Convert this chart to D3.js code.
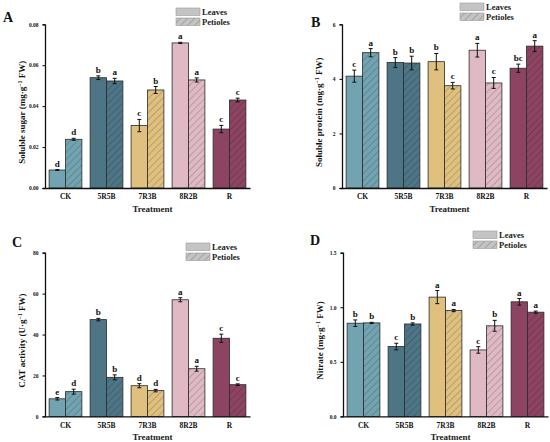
<!DOCTYPE html>
<html lang="en">
<head>
<meta charset="UTF-8">
<script src="https://d3js.org/d3.v7.min.js"></script>
<title>Panels</title>
<style>
  body { margin: 0; background: #fff; }
  text { font-family: "Liberation Serif", "Times New Roman", serif; font-weight: bold; }
</style>
</head>
<body>
<div id="chart"></div>
<script>
// categories
const treatments = ['CK', '5R5B', '7R3B', '8R2B', 'R']
const barColors = ['#72a3b1', '#4e7586', '#dfc07f', '#dfbac4', '#8d4462']

// A: soluble sugar
const sugarLeaves = [0.0088, 0.0539, 0.0305, 0.0709, 0.0288]
const sugarPetioles = [0.0238, 0.0523, 0.0479, 0.0528, 0.0430]
const sugarLeavesErr = [0.0002, 0.0009, 0.0030, 0.0003, 0.0018]
const sugarPetiolesErr = [0.0005, 0.0013, 0.0017, 0.0010, 0.0009]
const sugarLeavesSig = ['d', 'b', 'c', 'a', 'c']
const sugarPetiolesSig = ['d', 'a', 'b', 'a', 'c']
const sugarTicks = [0, 0.02, 0.04, 0.06, 0.08]

// B: soluble protein
const proteinLeaves = [4.10, 4.60, 4.63, 5.05, 4.39]
const proteinPetioles = [4.96, 4.58, 3.75, 3.85, 5.20]
const proteinLeavesErr = [0.22, 0.18, 0.30, 0.25, 0.15]
const proteinPetiolesErr = [0.15, 0.25, 0.12, 0.20, 0.20]
const proteinLeavesSig = ['c', 'b', 'b', 'a', 'bc']
const proteinPetiolesSig = ['a', 'b', 'c', 'c', 'a']
const proteinTicks = [0, 2, 4, 6]

// C: CAT activity
const catLeaves = [8.6, 47.3, 15.0, 57.0, 38.2]
const catPetioles = [12.1, 19.1, 12.6, 23.3, 15.5]
const catLeavesErr = [0.6, 0.6, 1.0, 1.0, 2.0]
const catPetiolesErr = [1.2, 1.2, 0.6, 1.2, 0.4]
const catLeavesSig = ['e', 'b', 'd', 'a', 'c']
const catPetiolesSig = ['d', 'b', 'd', 'a', 'c']
const catTicks = [0, 20, 40, 60, 80]

// D: nitrate
const nitrateLeaves = [0.854, 0.640, 1.093, 0.609, 1.050]
const nitratePetioles = [0.857, 0.847, 0.970, 0.830, 0.955]
const nitrateLeavesErr = [0.03, 0.03, 0.06, 0.03, 0.03]
const nitratePetiolesErr = [0.005, 0.01, 0.01, 0.05, 0.01]
const nitrateLeavesSig = ['b', 'c', 'a', 'c', 'a']
const nitratePetiolesSig = ['b', 'b', 'a', 'b', 'a']
const nitrateTicks = [0, 0.5, 1.0, 1.5]

const seriesNames = ['Leaves', 'Petioles']

const svg = d3.select('#chart').append('svg')
    .attr('width', 550).attr('height', 442)

// hatch patterns, one per colour plus grey for the legend
const defs = svg.append('defs')
function addHatch(id, color) {
    const p = defs.append('pattern')
        .attr('id', id)
        .attr('patternUnits', 'userSpaceOnUse')
        .attr('width', 5).attr('height', 5)
        .attr('patternTransform', 'rotate(45)')
    p.append('rect').attr('width', 5).attr('height', 5).attr('fill', color)
    p.append('line').attr('x1', 0).attr('y1', 0).attr('x2', 0).attr('y2', 5)
        .attr('stroke', d3.color(color).darker(1.3)).attr('stroke-width', 0.9)
}
barColors.forEach((c, i) => addHatch('hatch' + i, c))
addHatch('hatchLegend', '#c4c4c4')

const panels = [
    { letter: 'A', ox: 45, oy: 24.3, leaves: sugarLeaves, petioles: sugarPetioles,
      le: sugarLeavesErr, pe: sugarPetiolesErr, ls: sugarLeavesSig, ps: sugarPetiolesSig,
      ticks: sugarTicks, fmt: d3.format('.2f'), title: ['Soluble sugar (mg·g', '−1', ' FW)'],
      letterPos: [3, 22], legendPos: [176, 8] },
    { letter: 'B', ox: 342, oy: 24.3, leaves: proteinLeaves, petioles: proteinPetioles,
      le: proteinLeavesErr, pe: proteinPetiolesErr, ls: proteinLeavesSig, ps: proteinPetiolesSig,
      ticks: proteinTicks, fmt: d3.format('d'), title: ['Soluble protein (mg·g', '−1', ' FW)'],
      letterPos: [311, 27], legendPos: [460, 3] },
    { letter: 'C', ox: 45, oy: 252.7, leaves: catLeaves, petioles: catPetioles,
      le: catLeavesErr, pe: catPetiolesErr, ls: catLeavesSig, ps: catPetiolesSig,
      ticks: catTicks, fmt: d3.format('d'), title: ['CAT activity (U·g', '−1', ' FW)'],
      letterPos: [12, 247], legendPos: [186, 243] },
    { letter: 'D', ox: 343, oy: 252.7, leaves: nitrateLeaves, petioles: nitratePetioles,
      le: nitrateLeavesErr, pe: nitratePetiolesErr, ls: nitrateLeavesSig, ps: nitratePetiolesSig,
      ticks: nitrateTicks, fmt: d3.format('.1f'), title: ['Nitrate (mg·g', '−1', ' FW)'],
      letterPos: [310, 245], legendPos: [473, 231] }
]

const W = 205, H = 163.7

panels.forEach(drawPanel)

function drawPanel(p) {
    const g = svg.append('g').attr('transform', `translate(${p.ox},${p.oy})`)

    const x = d3.scaleBand().domain(treatments).range([0, W]).paddingInner(0.2).paddingOuter(0.1)
    const xs = d3.scaleBand().domain(seriesNames).range([0, x.bandwidth()])
    const y = d3.scaleLinear().domain([p.ticks[0], p.ticks[p.ticks.length - 1]]).range([H, 0])

    const rows = []
    treatments.forEach((t, i) => {
        rows.push({ t, i, s: 'Leaves', v: p.leaves[i], e: p.le[i], sig: p.ls[i] })
        rows.push({ t, i, s: 'Petioles', v: p.petioles[i], e: p.pe[i], sig: p.ps[i] })
    })

    g.selectAll('rect.bar').data(rows).enter().append('rect')
        .attr('class', 'bar')
        .attr('x', d => x(d.t) + xs(d.s))
        .attr('y', d => y(d.v))
        .attr('width', xs.bandwidth())
        .attr('height', d => H - y(d.v))
        .attr('fill', d => d.s === 'Leaves' ? barColors[d.i] : `url(#hatch${d.i})`)
        .attr('stroke', '#2a2a2a').attr('stroke-width', 0.8)

    // error bars
    const eb = g.selectAll('g.err').data(rows).enter().append('g')
        .attr('transform', d => `translate(${x(d.t) + xs(d.s) + xs.bandwidth() / 2},0)`)
    eb.append('line').attr('y1', d => y(d.v - d.e)).attr('y2', d => y(d.v + d.e))
        .attr('stroke', '#111').attr('stroke-width', 1)
    eb.append('line').attr('x1', -2).attr('x2', 2).attr('y1', d => y(d.v + d.e)).attr('y2', d => y(d.v + d.e))
        .attr('stroke', '#111').attr('stroke-width', 1)
    eb.append('line').attr('x1', -2).attr('x2', 2).attr('y1', d => y(d.v - d.e)).attr('y2', d => y(d.v - d.e))
        .attr('stroke', '#111').attr('stroke-width', 1)
    eb.append('text').attr('y', d => y(d.v + d.e) - 3)
        .attr('text-anchor', 'middle').attr('font-size', 9).attr('fill', '#111')
        .text(d => d.sig)

    // axes
    const yAxis = g.append('g')
        .call(d3.axisLeft(y).tickValues(p.ticks).tickFormat(p.fmt).tickSize(2.5).tickPadding(4))
    yAxis.selectAll('text').attr('font-size', 5.5).attr('fill', '#111')
    yAxis.select('.domain').attr('stroke', '#111').attr('stroke-width', 1.3)

    const xAxis = g.append('g').attr('transform', `translate(0,${H})`)
        .call(d3.axisBottom(x).tickSize(0).tickPadding(6))
    xAxis.selectAll('text').attr('font-size', 7.5).attr('fill', '#111')
    xAxis.select('.domain').attr('stroke', '#111').attr('stroke-width', 1.3)

    g.append('text').attr('x', W / 2 + 5).attr('y', H + 24)
        .attr('text-anchor', 'middle').attr('font-size', 9).attr('fill', '#222')
        .text('Treatment')

    const yt = g.append('text')
        .attr('transform', `translate(-20,${H / 2 + 6}) rotate(-90)`)
        .attr('text-anchor', 'middle').attr('font-size', 9).attr('fill', '#111')
    yt.append('tspan').text(p.title[0])
    yt.append('tspan').attr('dy', -3).attr('font-size', 6).text(p.title[1])
    yt.append('tspan').attr('dy', 3).text(p.title[2])

    // panel letter
    svg.append('text').attr('x', p.letterPos[0]).attr('y', p.letterPos[1])
        .attr('font-size', 14).attr('fill', '#111').text(p.letter)

    // legend
    const lg = svg.append('g').attr('transform', `translate(${p.legendPos[0]},${p.legendPos[1]})`)
    seriesNames.forEach((s, i) => {
        lg.append('rect').attr('x', 0).attr('y', i * 10).attr('width', 24).attr('height', 7.5)
            .attr('fill', i === 0 ? '#c4c4c4' : 'url(#hatchLegend)')
            .attr('stroke', '#9a9a9a').attr('stroke-width', 0.6)
        lg.append('text').attr('x', 26).attr('y', i * 10 + 7)
            .attr('font-size', 8.5).attr('fill', '#222').text(s)
    })
}
</script>
</body>
</html>
